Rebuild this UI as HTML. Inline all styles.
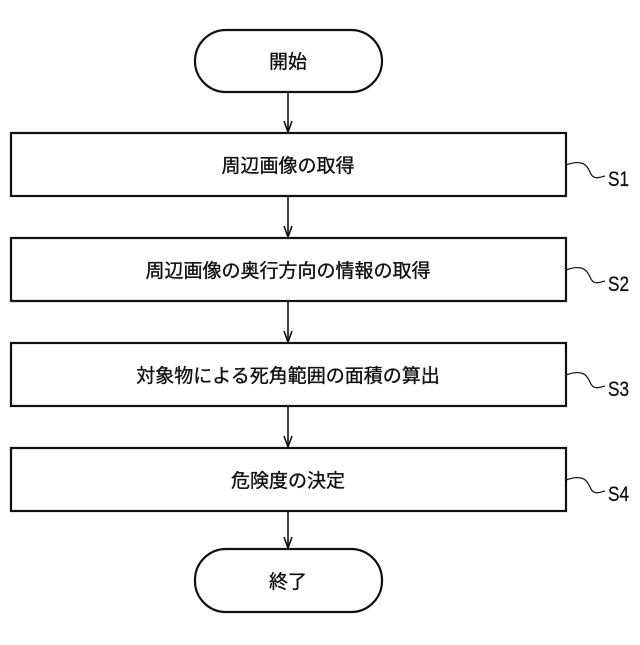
<!DOCTYPE html>
<html><head><meta charset="utf-8"><style>html,body{margin:0;background:#fff}</style></head>
<body>
<svg width="640" height="640" viewBox="0 0 640 640" xmlns="http://www.w3.org/2000/svg" font-family="'Liberation Sans','Noto Sans CJK JP',sans-serif">
<g fill="none" stroke="#111" stroke-width="2.2">
<rect x="195" y="30" width="187" height="62" rx="31"/>
<rect x="195" y="549" width="187" height="63" rx="31"/>
<rect x="11" y="133" width="555" height="63"/>
<rect x="11" y="238" width="555" height="63"/>
<rect x="11" y="343" width="555" height="63"/>
<rect x="11" y="448" width="555" height="63"/>
</g>
<g stroke="#111" stroke-width="1.6" fill="none">
<line x1="288" y1="92" x2="288" y2="132"/><path d="M284,121 L288,132 L292,121"/>
<line x1="288" y1="196" x2="288" y2="237"/><path d="M284,226 L288,237 L292,226"/>
<line x1="288" y1="301" x2="288" y2="342"/><path d="M284,331 L288,342 L292,331"/>
<line x1="288" y1="406" x2="288" y2="447"/><path d="M284,436 L288,447 L292,436"/>
<line x1="288" y1="511" x2="288" y2="548"/><path d="M284,537 L288,548 L292,537"/>
</g>
<g fill="none" stroke="#111" stroke-width="1.2">
<path d="M566,165 C585,158 588,168 590,172 C593,180 598,178 605,176"/>
<path d="M566,270 C585,263 588,273 590,277 C593,285 598,283 605,281"/>
<path d="M566,375 C585,368 588,378 590,382 C593,390 598,388 605,386"/>
<path d="M566,480 C585,473 588,483 590,487 C593,495 598,493 605,491"/>
</g>
<g font-size="19" fill="#111" stroke="#111" stroke-width="0.35" text-anchor="middle">
<text x="288" y="68">開始</text>
<text x="288" y="588">終了</text>
<text x="288" y="172">周辺画像の取得</text>
<text x="288" y="277">周辺画像の奥行方向の情報の取得</text>
<text x="288" y="382">対象物による死角範囲の面積の算出</text>
<text x="288" y="487">危険度の決定</text>
</g>
<g font-size="21" fill="#111" stroke="#111" stroke-width="0.3">
<text x="608" y="186" textLength="21" lengthAdjust="spacingAndGlyphs">S1</text>
<text x="608" y="291" textLength="21" lengthAdjust="spacingAndGlyphs">S2</text>
<text x="608" y="396" textLength="21" lengthAdjust="spacingAndGlyphs">S3</text>
<text x="608" y="501" textLength="21" lengthAdjust="spacingAndGlyphs">S4</text>
</g>
</svg>
</body></html>
